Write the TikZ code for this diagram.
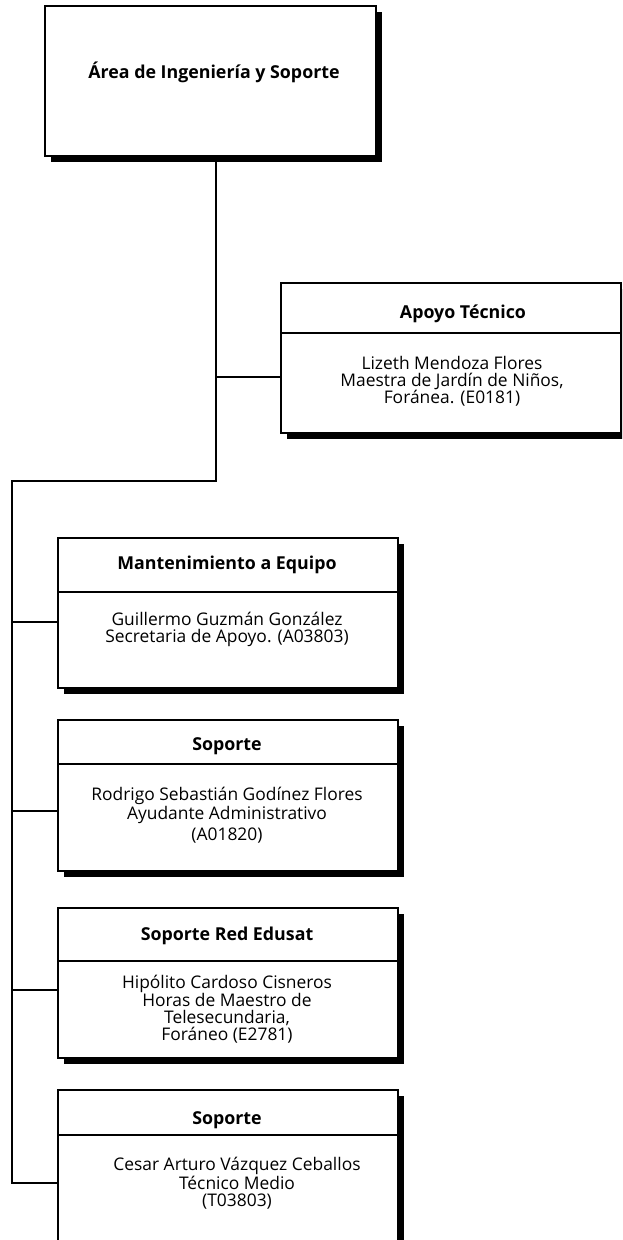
\documentclass[tikz,border=0pt]{standalone}
\usepackage{fontspec}
\setmainfont{Open Sans}
\usetikzlibrary{shadows}
\begin{document}
\begin{tikzpicture}[x=1pt,y=-1pt,
  orgbox/.style={draw=black, line width=2pt, fill=white, rectangle, anchor=north west, inner sep=0pt,
    drop shadow={shadow xshift=6pt, shadow yshift=-6pt, fill=black, opacity=1}},
  hdr/.style={draw=black, line width=1.8pt, rectangle, anchor=north west, inner sep=0pt},
  hdrtext/.style={font=\bfseries\fontsize{17.8}{19}\selectfont, inner sep=0pt},
  bodytext/.style={align=center, font=\fontsize{17.4}{17}\selectfont, inner sep=0pt},
  conn/.style={line width=2pt}]
\useasboundingbox (0,0) rectangle (622,1240);
\clip (0,0) rectangle (622,1240);

% top box
\node[orgbox, minimum width=331pt, minimum height=150pt] (top) at (44,5) {};
\node[hdrtext] (toptext) at (214,72) {Área de Ingeniería y Soporte};

% Apoyo Tecnico
\node[orgbox, minimum width=340pt, minimum height=150pt] (apoyo) at (280,282) {};
\node[hdr, minimum width=340pt, minimum height=50pt] (apoyoh) at (280,282) {};
\node[hdrtext] (apoyot) at (463,314) {Apoyo Técnico};
\node[bodytext] (apoyob) at (452,381) {Lizeth Mendoza Flores\\Maestra de Jardín de Niños,\\Foránea. (E0181)};

% Mantenimiento
\node[orgbox, minimum width=340pt, minimum height=150pt] (mant) at (57,537) {};
\node[hdr, minimum width=340pt, minimum height=54pt] (manth) at (57,537) {};
\node[hdrtext] (mantt) at (227,565) {Mantenimiento a Equipo};
\node[bodytext] (mantb) at (227,629) {Guillermo Guzmán González\\Secretaria de Apoyo. (A03803)};

% Soporte 1
\node[orgbox, minimum width=340pt, minimum height=151pt] (sop1) at (57,719) {};
\node[hdr, minimum width=340pt, minimum height=44pt] (sop1h) at (57,719) {};
\node[hdrtext] (sop1t) at (227,746) {Soporte};
\node[bodytext] (sop1b) at (227,815) {Rodrigo Sebastián Godínez Flores\\Ayudante Administrativo\\[4pt](A01820)};

% Soporte Red Edusat
\node[orgbox, minimum width=340pt, minimum height=150pt] (red) at (57,907) {};
\node[hdr, minimum width=340pt, minimum height=53pt] (redh) at (57,907) {};
\node[hdrtext] (redt) at (227,936) {Soporte Red Edusat};
\node[bodytext] (redb) at (227,1009) {Hipólito Cardoso Cisneros\\Horas de Maestro de\\Telesecundaria,\\Foráneo (E2781)};

% Soporte 2
\node[orgbox, minimum width=340pt, minimum height=170pt] (sop2) at (57,1089) {};
\node[hdr, minimum width=340pt, minimum height=45pt] (sop2h) at (57,1089) {};
\node[hdrtext] (sop2t) at (227,1120) {Soporte};
\node[bodytext] (sop2b) at (237,1183) {Cesar Arturo Vázquez Ceballos\\Técnico Medio\\(T03803)};

% connectors
\coordinate (s0) at (216,155);
\coordinate (ja) at (216,377);
\coordinate (j0) at (216,481);
\coordinate (j1) at (12,481);
\coordinate (jm) at (12,622);
\coordinate (js1) at (12,811);
\coordinate (jr) at (12,990);
\coordinate (js2) at (12,1183);
\draw[conn] (s0) -- (j0) -- (j1) -- (js2) -- (js2 -| sop2.west);
\draw[conn] (ja) -- (ja -| apoyo.west);
\draw[conn] (jm) -- (jm -| mant.west);
\draw[conn] (js1) -- (js1 -| sop1.west);
\draw[conn] (jr) -- (jr -| red.west);
\end{tikzpicture}
\end{document}
